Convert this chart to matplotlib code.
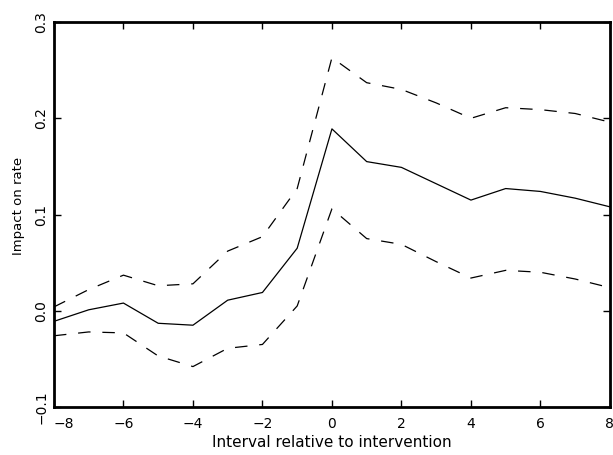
import numpy as np
import matplotlib
matplotlib.use("Agg")
import matplotlib.pyplot as plt
import matplotlib.transforms as mtransforms

# Data
interval = [-8, -7, -6, -5, -4, -3, -2, -1, 0, 1, 2, 3, 4, 5, 6, 7, 8]
impact = [-0.011, 0.001, 0.008, -0.013, -0.015, 0.011, 0.019, 0.065, 0.189,
          0.155, 0.149, 0.132, 0.115, 0.127, 0.124, 0.117, 0.108]
upper = [0.004, 0.022, 0.037, 0.026, 0.028, 0.062, 0.077, 0.127, 0.263,
         0.237, 0.230, 0.216, 0.200, 0.211, 0.209, 0.205, 0.196]
lower = [-0.026, -0.022, -0.023, -0.047, -0.058, -0.039, -0.035, 0.005, 0.106,
         0.075, 0.069, 0.051, 0.034, 0.042, 0.040, 0.033, 0.024]
xticks = [-8, -6, -4, -2, 0, 2, 4, 6, 8]
yticks = [-0.1, 0.0, 0.1, 0.2, 0.3]

plt.rcParams['font.family'] = 'DejaVu Sans'
plt.rcParams['lines.scale_dashes'] = False

fig = plt.figure(figsize=(6.13, 4.55), dpi=100)
ax = fig.add_axes([0.088, 0.1055, 0.907, 0.846])

ax.plot(interval, impact, color='black', lw=0.9)
ax.plot(interval, upper, color='black', lw=0.9, dashes=(9, 8.5))
ax.plot(interval, lower, color='black', lw=0.9, dashes=(9, 8.5))

ax.set_xlim(-8, 8)
ax.set_ylim(-0.1, 0.3)
ax.set_xticks(xticks)
ax.set_xticklabels([('\u2212%d' % -t) if t < 0 else '%d' % t for t in xticks])
ax.set_yticks(yticks)
ax.set_yticklabels([('\u2212%.1f' % -t) if t < 0 else '%.1f' % t for t in yticks],
                   rotation=90, va='center')

for s in ax.spines.values():
    s.set_linewidth(2)
ax.tick_params(direction='in', length=5, width=1, top=True, right=True,
               labelsize=10, pad=7)
ax.tick_params(axis='y', pad=4)

# first x label sits a bit right of its tick, clear of the -0.1 label
lab0 = ax.get_xticklabels()[0]
lab0.set_transform(lab0.get_transform() +
                   mtransforms.ScaledTranslation(10 / 100, 0, fig.dpi_scale_trans))

ax.set_xlabel('Interval relative to intervention', fontsize=11, labelpad=3)
ax.set_ylabel('Impact on rate', fontsize=9.5)
ax.yaxis.set_label_coords(-0.052, 0.522)

fig.savefig('out.png', dpi=100)
